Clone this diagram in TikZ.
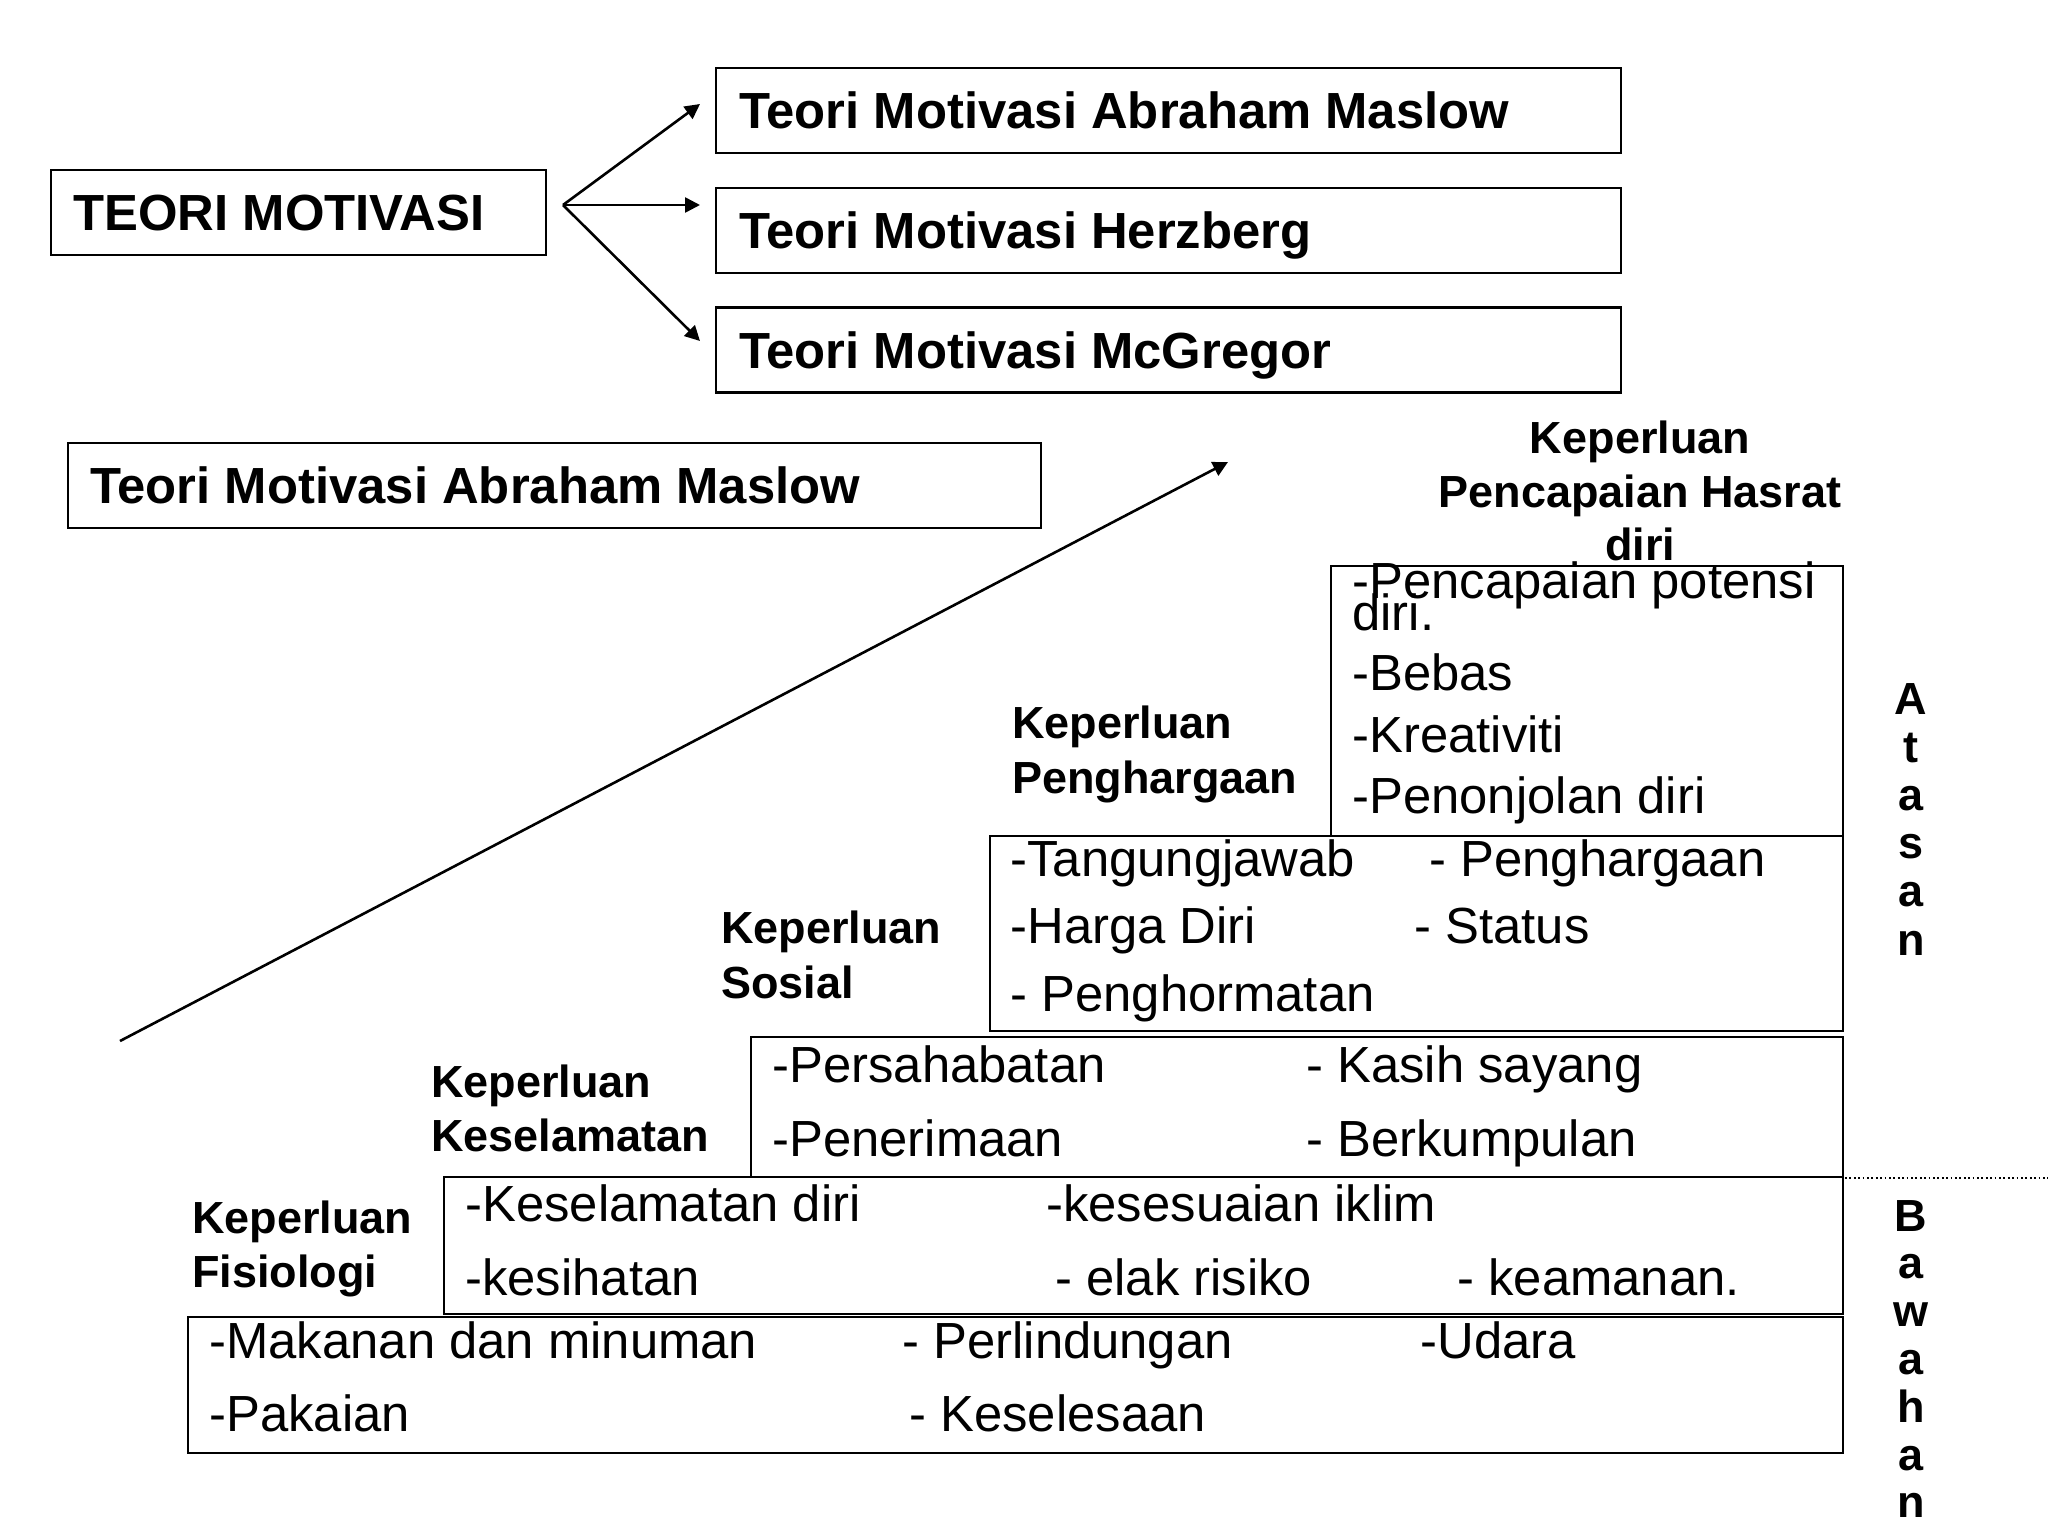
\documentclass[tikz,border=0pt]{standalone}
\usepackage{fontspec}
\setmainfont{Liberation Sans}
\usetikzlibrary{arrows.meta}
\begin{document}
\begin{tikzpicture}[x=0.5pt,y=-0.5pt,
  box/.style={draw,line width=1.25pt,inner sep=0pt,rectangle},
  title/.style={anchor=base west,inner sep=0pt,font=\fontsize{25.4}{30}\selectfont\bfseries},
  item/.style={anchor=base west,inner sep=0pt,font=\fontsize{25.4}{30}\selectfont},
  lbl/.style={anchor=base west,inner sep=0pt,font=\fontsize{22.5}{27}\selectfont\bfseries},
  vlet/.style={anchor=base,inner sep=0pt,font=\fontsize{22.5}{27}\selectfont\bfseries},
  conn/.style={line width=1.3pt,-{Triangle[length=7.5pt,width=7.5pt]}}]
\useasboundingbox (0,0) rectangle (2048,1536);
% top part
\node[box,minimum width=247.5pt,minimum height=42.5pt] (teori) at (298.5,212.5) {};
\node[title] (teorit) at (73,230) {TEORI MOTIVASI};
\node[box,minimum width=452.5pt,minimum height=42.5pt] (m1) at (1168.5,110.5) {};
\node[title] (m1t) at (739,128) {Teori Motivasi Abraham Maslow};
\node[box,minimum width=452.5pt,minimum height=42.5pt] (hz) at (1168.5,230.5) {};
\node[title] (hzt) at (739,248) {Teori Motivasi Herzberg};
\node[box,minimum width=452.5pt,minimum height=42.5pt] (mc) at (1168.5,350) {};
\node[title] (mct) at (739,368) {Teori Motivasi McGregor};
\coordinate (fork) at (563,205);
\coordinate (t1) at (700,104);
\coordinate (t2) at (700,205);
\coordinate (t3) at (700,341);
\draw[conn] (fork) -- (t1);
\draw[conn] (fork) -- (t2);
\draw[conn] (fork) -- (t3);
\node[box,minimum width=486.5pt,minimum height=42.5pt] (m2) at (554.5,485.5) {};
\node[title] (m2t) at (90,503) {Teori Motivasi Abraham Maslow};
% diagonal arrow
\coordinate (dstart) at (120,1041);
\coordinate (dend) at (1228,462);
\draw[conn] (dstart) -- (dend);
% pyramid boxes
\node[box,minimum width=256pt,minimum height=135pt] (p5) at (1587,701) {};
\node[box,minimum width=426.5pt,minimum height=97.5pt] (p4) at (1416.5,933.5) {};
\node[box,minimum width=546pt,minimum height=70pt] (p3) at (1297,1107) {};
\node[box,minimum width=699.5pt,minimum height=68.5pt] (p2) at (1143.5,1245.5) {};
\node[box,minimum width=827.5pt,minimum height=68pt] (p1) at (1015.5,1385) {};
% level 5
\node[lbl,anchor=base] (l5a) at (1640,453) {Keperluan};
\node[lbl,anchor=base] (l5b) at (1640,507) {Pencapaian Hasrat};
\node[lbl,anchor=base] (l5c) at (1640,560) {diri};
\node[item] (i5a) at (1352,598) {-Pencapaian potensi};
\node[item] (i5b) at (1352,630) {diri.};
\node[item] (i5c) at (1352,690) {-Bebas};
\node[item] (i5d) at (1352,752) {-Kreativiti};
\node[item] (i5e) at (1352,813) {-Penonjolan diri};
% level 4
\node[lbl] (l4a) at (1012,738) {Keperluan};
\node[lbl] (l4b) at (1012,793) {Penghargaan};
\node[item] (i4a) at (1010,876) {-Tangungjawab};
\node[item] (i4b) at (1429,876) {- Penghargaan};
\node[item] (i4c) at (1010,943) {-Harga Diri};
\node[item] (i4d) at (1414,943) {- Status};
\node[item] (i4e) at (1010,1011) {- Penghormatan};
% level 3
\node[lbl] (l3a) at (721,943) {Keperluan};
\node[lbl] (l3b) at (721,998) {Sosial};
\node[item] (i3a) at (772,1082) {-Persahabatan};
\node[item] (i3b) at (1306,1082) {- Kasih sayang};
\node[item] (i3c) at (772,1156) {-Penerimaan};
\node[item] (i3d) at (1306,1156) {- Berkumpulan};
% level 2
\node[lbl] (l2a) at (431,1097) {Keperluan};
\node[lbl] (l2b) at (431,1151) {Keselamatan};
\node[item] (i2a) at (465,1221) {-Keselamatan diri};
\node[item] (i2b) at (1046,1221) {-kesesuaian iklim};
\node[item] (i2c) at (465,1295) {-kesihatan};
\node[item] (i2d) at (1055,1295) {- elak risiko};
\node[item] (i2e) at (1457,1295) {- keamanan.};
% level 1
\node[lbl] (l1a) at (192,1233) {Keperluan};
\node[lbl] (l1b) at (192,1287) {Fisiologi};
\node[item] (i1a) at (209,1358) {-Makanan dan minuman};
\node[item] (i1b) at (902,1358) {- Perlindungan};
\node[item] (i1c) at (1420,1358) {-Udara};
\node[item] (i1d) at (209,1431) {-Pakaian};
\node[item] (i1e) at (909,1431) {- Keselesaan};
% dotted divider
\coordinate (dv1) at (1845,1178);
\coordinate (dv2) at (2048,1178);
\draw[line width=0.9pt,dash pattern=on 0.9pt off 1.3pt] (dv1) -- (dv2);
% vertical words
\foreach \c [count=\i] in {A,t,a,s,a,n}
  \node[vlet] (at\i) at (1911,{714+48.2*(\i-1)}) {\c};
\foreach \c [count=\i] in {B,a,w,a,h,a,n}
  \node[vlet] (bw\i) at (1911,{1231+47.8*(\i-1)}) {\c};
\end{tikzpicture}
\end{document}
